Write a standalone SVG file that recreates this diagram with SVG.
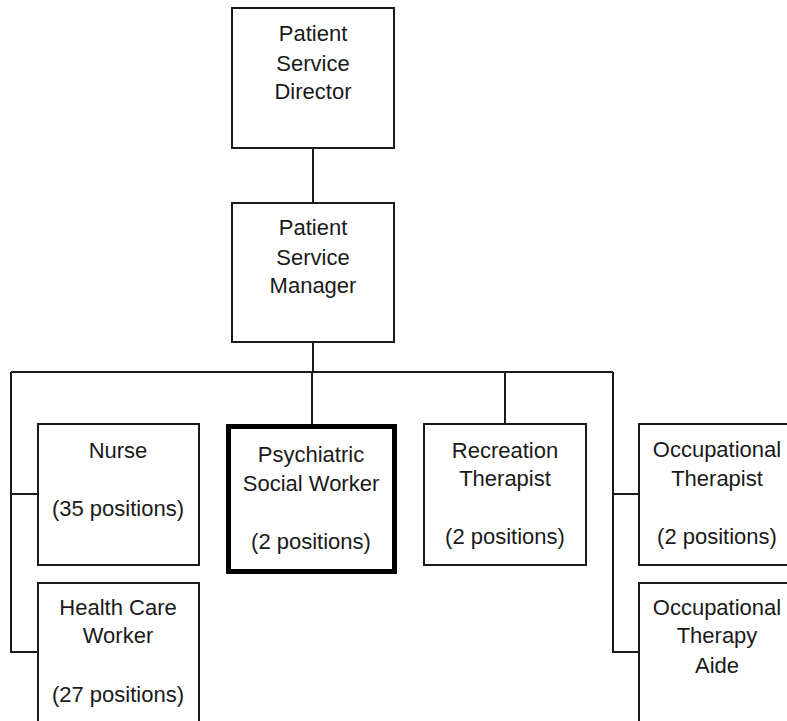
<svg xmlns="http://www.w3.org/2000/svg" width="787" height="721" viewBox="0 0 787 721">
<style>
.box{fill:#fff;stroke:#1a1a1a;stroke-width:2}
.bold{fill:#fff;stroke:#000;stroke-width:5}
.t{font-family:"Liberation Sans",Arial,sans-serif;font-size:22px;fill:#1a1a1a;text-anchor:middle}
.c{fill:none;stroke:#1a1a1a;stroke-width:2}
</style>
<rect width="787" height="721" fill="#fff"/>
<g id="connectors">
<path class="c" d="M313 148 V203"/>
<path class="c" d="M313 342 V372"/>
<path class="c" d="M11 372 H613"/>
<path class="c" d="M11 372 V652 H38"/>
<path class="c" d="M11 494 H38"/>
<path class="c" d="M312 372 V427"/>
<path class="c" d="M505 372 V424"/>
<path class="c" d="M613 372 V652 H639"/>
<path class="c" d="M613 494 H639"/>
</g>
<g id="director">
<rect class="box" x="232" y="8" width="162" height="140"/>
<text class="t" x="313" y="41">Patient</text>
<text class="t" x="313" y="71">Service</text>
<text class="t" x="313" y="99">Director</text>
</g>
<g id="manager">
<rect class="box" x="232" y="203" width="162" height="139"/>
<text class="t" x="313" y="235">Patient</text>
<text class="t" x="313" y="265">Service</text>
<text class="t" x="313" y="293">Manager</text>
</g>
<g id="nurse">
<rect class="box" x="38" y="424" width="161" height="141"/>
<text class="t" x="118" y="458">Nurse</text>
<text class="t" x="118" y="516">(35 positions)</text>
</g>
<g id="healthcare">
<rect class="box" x="38" y="583" width="161" height="160"/>
<text class="t" x="118" y="615">Health Care</text>
<text class="t" x="118" y="643">Worker</text>
<text class="t" x="118" y="702">(27 positions)</text>
</g>
<g id="psychiatric">
<rect class="bold" x="228.5" y="426.5" width="166" height="145"/>
<text class="t" x="311" y="462">Psychiatric</text>
<text class="t" x="311" y="491">Social Worker</text>
<text class="t" x="311" y="549">(2 positions)</text>
</g>
<g id="recreation">
<rect class="box" x="424" y="424" width="162" height="141"/>
<text class="t" x="505" y="458">Recreation</text>
<text class="t" x="505" y="486">Therapist</text>
<text class="t" x="505" y="544">(2 positions)</text>
</g>
<g id="occupational">
<rect class="box" x="639" y="424" width="160" height="141"/>
<text class="t" x="717" y="457">Occupational</text>
<text class="t" x="717" y="486">Therapist</text>
<text class="t" x="717" y="544">(2 positions)</text>
</g>
<g id="aide">
<rect class="box" x="639" y="583" width="160" height="160"/>
<text class="t" x="717" y="615">Occupational</text>
<text class="t" x="717" y="643">Therapy</text>
<text class="t" x="717" y="673">Aide</text>
</g>
</svg>
